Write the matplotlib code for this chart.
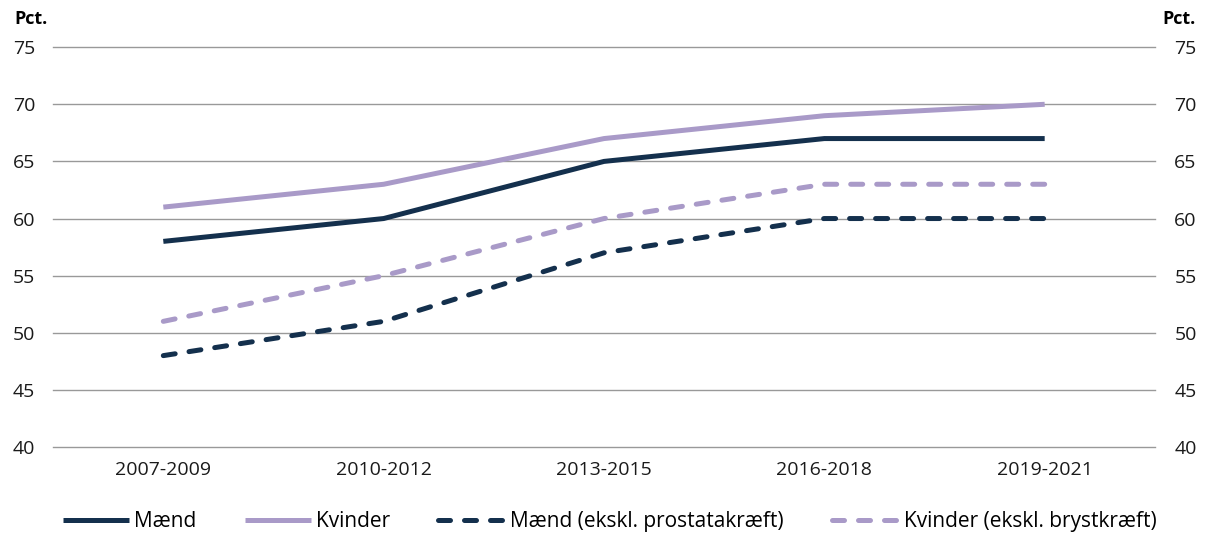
import numpy as np
import matplotlib.pyplot as plt

plt.rcParams['font.family'] = ['Open Sans', 'DejaVu Sans']

# Data
periods = ['2007-2009', '2010-2012', '2013-2015', '2016-2018', '2019-2021']
maend = [58, 60, 65, 67, 67]
kvinder = [61, 63, 67, 69, 70]
maend_ekskl = [48, 51, 57, 60, 60]
kvinder_ekskl = [51, 55, 60, 63, 63]
yticks = [40, 45, 50, 55, 60, 65, 70, 75]

navy = '#14304d'
lilac = '#a99ac8'
dash = (0, (2.4, 2.8))
lw = 3.6

fig = plt.figure(figsize=(12.08, 5.36), dpi=100)
ax = fig.add_axes([0.044, 0.166, 0.912, 0.746])

x = np.arange(len(periods))
ax.plot(x, maend, color=navy, lw=lw, label='Mænd', solid_capstyle='butt')
ax.plot(x, kvinder, color=lilac, lw=lw, label='Kvinder', solid_capstyle='butt')
ax.plot(x, maend_ekskl, color=navy, lw=lw, ls=dash, dash_capstyle='round',
        label='Mænd (ekskl. prostatakræft)')
ax.plot(x, kvinder_ekskl, color=lilac, lw=lw, ls=dash, dash_capstyle='round',
        label='Kvinder (ekskl. brystkræft)')

ax.set_xlim(-0.5, 4.5)
ax.set_ylim(40, 75)
ax.set_yticks(yticks)
ax.set_xticks(x)
ax.set_xticklabels(periods, fontsize=14)
ax.tick_params(axis='both', length=0, labelsize=14, colors='#1a1a1a')
ax.tick_params(axis='y', pad=13)
ax.tick_params(axis='x', pad=10)
# gridlines, not clipped so the 40 line shows
for yv in yticks:
    ax.axhline(yv, color='#999999', lw=1, zorder=0, clip_on=False)
for s in ax.spines.values():
    s.set_visible(False)

ax2 = ax.twinx()
ax2.set_ylim(40, 75)
ax2.set_yticks(yticks)
ax2.tick_params(axis='y', length=0, labelsize=14, colors='#1a1a1a', pad=14)
for s in ax2.spines.values():
    s.set_visible(False)

fig.text(0.012, 0.965, 'Pct.', fontsize=13, fontweight='bold', va='center', ha='left')
fig.text(0.99, 0.965, 'Pct.', fontsize=13, fontweight='bold', va='center', ha='right')

ax.legend(loc='lower center', bbox_to_anchor=(0.505, -0.26), ncol=4, frameon=False,
          fontsize=15, handlelength=3.2, columnspacing=2.3, handletextpad=0.25)

fig.savefig('out.png', dpi=100)
